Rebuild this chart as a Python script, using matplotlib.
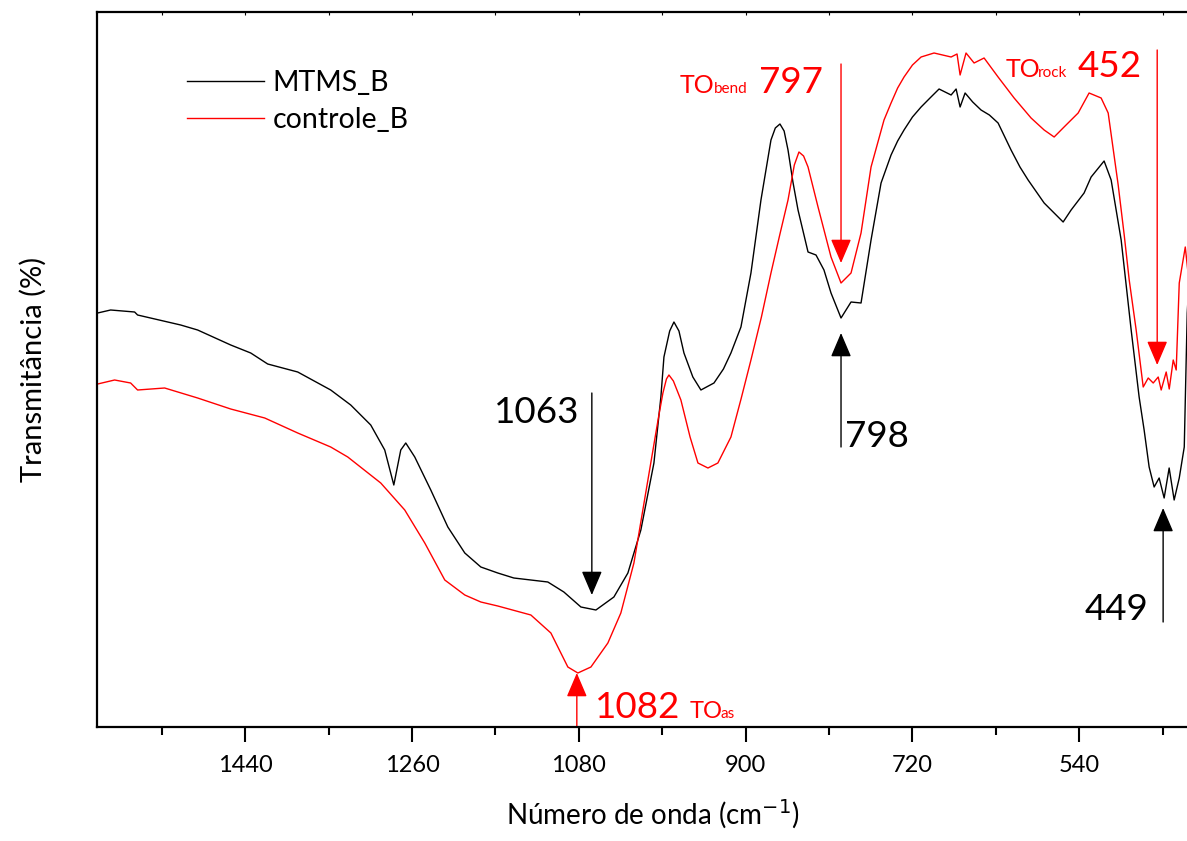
import matplotlib
matplotlib.use("Agg")
import matplotlib.pyplot as plt
from matplotlib.patches import FancyArrowPatch

# ---------------- data ----------------
mtms_wn = [1599.3, 1585.3, 1559.4, 1556.2, 1509.7, 1491.4, 1455.7, 1434.1, 1415.8, 1383.4,
           1347.8, 1326.2, 1304.6, 1289.5, 1279.7, 1272.2, 1266.8, 1257.1, 1239.8, 1221.4,
           1203.1, 1185.8, 1167.5, 1150.2, 1113.5, 1096.2, 1077.8, 1061.6, 1042.2, 1027.1,
           1013.1, 999.0, 991.5, 988.2, 982.0, 977.4, 972.0, 966.6, 957.0, 948.3,
           934.2, 924.0, 915.9, 905.1,
           894.3, 883.5, 872.7, 868.0, 863.0, 858.5, 854.3, 849.0, 843.5, 832.7,
           824.1, 815.5, 807.9,
           797.1, 786.3, 775.5, 764.7, 753.9, 743.1, 736.0, 729.1, 720.0, 710.7,
           700.0, 691.3, 678.3,
           672.9, 668.6, 663.2, 655.0, 646.0, 637.0, 627.6, 613.6, 604.0, 595.2,
           577.9, 562.8, 557.4,
           548.8, 534.8, 527.2, 513.2, 505.6, 494.8, 484.0, 475.4, 470.0, 464.6,
           459.2, 453.8, 448.4, 443.0, 437.6, 432.1, 426.7, 423.5, 421.0]
mtms_t = [41.4, 41.7, 41.5, 41.2, 40.2, 39.7, 38.2, 37.4, 36.3, 35.5,
          33.7, 32.2, 30.2, 27.7, 24.2, 27.7, 28.4, 27.0, 23.7, 20.0,
          17.4, 16.0, 15.4, 14.9, 14.5, 13.5, 12.0, 11.7, 13.0, 15.4,
          19.7, 26.4, 33.0, 37.0, 39.6, 40.5, 39.6, 37.4, 35.0, 33.7,
          34.4, 35.8, 37.4, 40.0,
          45.4, 52.7, 58.7, 59.9, 60.3, 59.6, 57.7, 54.5, 51.7, 47.5,
          47.2, 45.7, 43.4,
          40.9, 42.5, 42.4, 48.7, 54.4, 57.2, 58.6, 59.7, 61.0, 62.0,
          63.0, 63.8, 63.2,
          63.8, 62.0, 63.4, 62.5, 61.7, 61.2, 60.4, 57.7, 56.0, 54.7,
          52.4, 51.0, 50.5,
          51.7, 53.4, 55.0, 56.6, 54.7, 48.7, 39.7, 33.0, 29.7, 26.0,
          24.0, 24.9, 22.9, 25.9, 22.7, 24.9, 28.0, 41.4, 45.5]

ctrl_wn = [1599.3, 1581.0, 1563.7, 1556.2, 1527.0, 1491.4, 1455.7, 1419.0, 1383.4, 1347.8,
           1329.4, 1293.8, 1267.9, 1246.3, 1224.7, 1203.1, 1185.8, 1167.5, 1131.8, 1110.2,
           1091.9, 1081.1, 1067.0, 1048.7, 1034.7, 1020.6, 1005.5, 994.0, 989.3, 985.5,
           982.8, 978.0, 969.9, 960.0,
           951.5, 940.7, 930.0, 915.9, 905.0, 894.3, 883.0, 872.7, 863.0, 854.3,
           847.5, 842.5, 837.5, 832.7, 821.9,
           807.9, 797.1, 786.3, 775.5, 764.7, 750.7, 743.1, 736.0, 729.1, 720.0,
           710.7, 696.7,
           678.3, 671.9, 668.6, 662.2, 653.5, 642.7, 627.6, 610.3, 592.0, 577.9,
           567.1, 556.4, 541.2, 529.4, 516.4, 508.8, 498.0, 491.5, 486.1, 478.6,
           471.0, 465.6, 460.2, 454.8, 451.6, 446.2, 442.9, 438.6, 435.4, 432.1,
           425.6, 421.0]
ctrl_t = [34.3, 34.7, 34.4, 33.7, 33.9, 32.9, 31.8, 30.9, 29.4, 28.0,
          27.0, 24.4, 21.7, 18.4, 14.7, 13.2, 12.5, 12.1, 11.2, 9.4,
          6.0, 5.4, 6.0, 8.4, 11.4, 16.4, 24.7, 31.0, 33.4, 34.8,
          35.2, 34.6, 32.7, 29.0,
          26.4, 25.9, 26.4, 29.0, 32.8, 36.7, 41.0, 45.4, 49.3, 52.7,
          56.2, 57.5, 57.1, 56.0, 52.0,
          47.0, 44.4, 45.4, 49.4, 56.0, 60.7, 62.4, 63.9, 65.0, 66.2,
          67.0, 67.4,
          67.0, 67.3, 65.2, 67.4, 66.4, 66.9, 65.0, 62.9, 60.9, 59.7,
          59.0, 60.0, 61.4, 63.4, 62.9, 61.4, 54.2, 49.2, 44.7, 39.7,
          34.0, 34.9, 34.4, 35.0, 33.7, 35.5, 33.8, 36.7, 35.7, 44.4,
          48.0, 44.0]

series_labels = ["MTMS_B", "controle_B"]
major_ticks = [1440, 1260, 1080, 900, 720, 540]
minor_ticks = [1530, 1350, 1170, 990, 810, 630, 450]

# ---------------- figure ----------------
plt.rcParams['font.family'] = ['Lato', 'DejaVu Sans']
W, H = 1187, 841
fig = plt.figure(figsize=(W / 100, H / 100), dpi=100)
ax = fig.add_axes([97 / W, 1 - 727 / H, (1209 - 97) / W, (727 - 12) / H])

ax.plot(mtms_wn, mtms_t, color='black', lw=1.0, label=series_labels[0])
ax.plot(ctrl_wn, ctrl_t, color='#ff0000', lw=1.0, label=series_labels[1])

ax.set_xlim(1600, 400)
ax.set_ylim(0, 71.5)
ax.set_xticks(major_ticks)
ax.set_xticks(minor_ticks, minor=True)
ax.set_yticks([])
ax.tick_params(axis='x', which='major', length=11, width=1.5, direction='out',
               labelsize=17, pad=9)
ax.tick_params(axis='x', which='minor', length=6, width=1.5, direction='out')
for s in ax.spines.values():
    s.set_linewidth(1.6)
ax.spines['right'].set_visible(False)

sec = ax.secondary_xaxis('top')
sec.set_xticks(major_ticks)
sec.set_xticks(minor_ticks, minor=True)
sec.tick_params(which='both', direction='in', length=2, width=0.8, labeltop=False)
sec.spines['top'].set_visible(False)

ax.set_xlabel('Número de onda (cm$^{-1}$)', fontsize=20, labelpad=16)
ax.set_ylabel('Transmitância (%)', fontsize=21, labelpad=36)

leg = ax.legend(loc='upper left', bbox_to_anchor=(0.058, 0.955), frameon=False,
                fontsize=20.5, handlelength=2.7, handletextpad=0.3, labelspacing=0.4)


def arrow(x, y0, y1, color):
    ax.add_patch(FancyArrowPatch((x, y0), (x, y1),
                                 arrowstyle='-|>,head_length=0.75,head_width=0.32',
                                 mutation_scale=20, color=color, lw=1.0,
                                 shrinkA=0, shrinkB=0, clip_on=False))


red = '#ff0000'
big = 26.5
mid = 18
small = 11

# black annotations
arrow(1066, 33.4, 13.2, 'black')
ax.text(1172.0, 30.4, '1063', fontsize=big, va='baseline', ha='left')
arrow(797.1, 28.0, 39.4, 'black')
ax.text(793.0, 28.0, '798', fontsize=big, va='baseline', ha='left')
arrow(449.5, 10.5, 21.9, 'black')
ax.text(534.0, 10.7, '449', fontsize=big, va='baseline', ha='left')

# red annotations
arrow(1082.2, 0.0, 5.4, red)
ax.text(1063.0, 0.9, '1082', fontsize=big, va='baseline', ha='left', color=red)
ax.text(960.5, 0.9, 'TO', fontsize=mid - 1, va='baseline', ha='left', color=red)
ax.text(927.0, 0.9, 'as', fontsize=small, va='baseline', ha='left', color=red)

arrow(797.1, 66.3, 46.4, red)
ax.text(970.9, 63.4, 'TO', fontsize=mid, va='baseline', ha='left', color=red)
ax.text(934.2, 63.4, 'bend', fontsize=small, va='baseline', ha='left', color=red)
ax.text(886.0, 63.4, '797', fontsize=big, va='baseline', ha='left', color=red)

arrow(455.9, 67.7, 36.2, red)
ax.text(619.0, 65.0, 'TO', fontsize=mid, va='baseline', ha='left', color=red)
ax.text(584.4, 65.0, 'rock', fontsize=small, va='baseline', ha='left', color=red)
ax.text(541.5, 65.0, '452', fontsize=big, va='baseline', ha='left', color=red)

fig.savefig('out.png', dpi=100)
